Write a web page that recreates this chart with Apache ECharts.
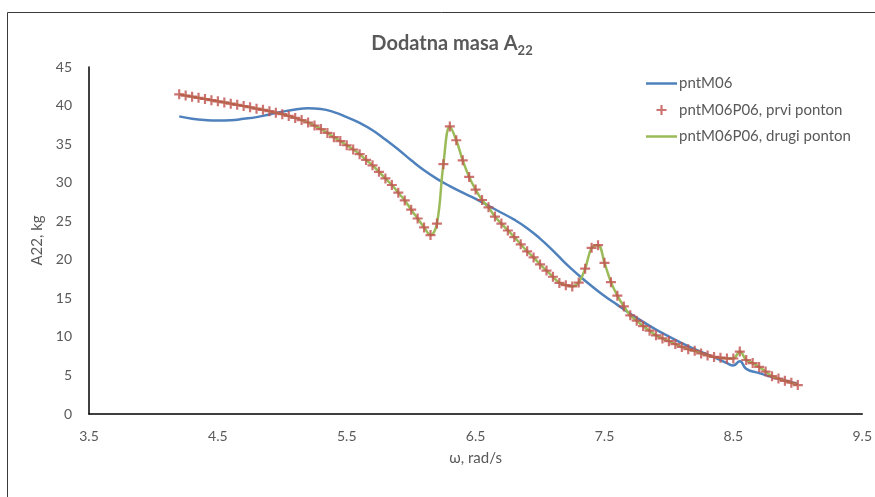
<!DOCTYPE html>
<html><head><meta charset="utf-8">
<script src="https://cdn.jsdelivr.net/npm/echarts@6/dist/echarts.min.js"></script>
<style>html,body{margin:0;padding:0;background:#fff}#c{width:875px;height:497px}</style>
</head><body><div id="c"></div>
<script>
const seriesNames = ['pntM06', 'pntM06P06, prvi ponton', 'pntM06P06, drugi ponton'];
const xTicks = [3.5, 4.5, 5.5, 6.5, 7.5, 8.5, 9.5];
const yTicks = [0, 5, 10, 15, 20, 25, 30, 35, 40, 45];

const blueX = [4.2,4.3,4.4,4.5,4.6,4.7,4.8,4.9,5.0,5.1,5.2,5.3,5.4,5.5,5.6,5.7,5.8,5.9,6.0,6.1,6.2,6.3,6.4,6.5,6.6,6.7,6.8,6.9,7.0,7.1,7.2,7.3,7.4,7.5,7.6,7.7,7.8,7.9,8.0,8.1,8.2,8.3,8.4,8.45,8.5,8.55,8.6,8.7,8.8,8.9,9.0];
const blueY = [38.6,38.3,38.12,38.05,38.1,38.28,38.5,38.85,39.2,39.5,39.65,39.55,39.15,38.5,37.75,36.8,35.6,34.3,32.9,31.6,30.5,29.55,28.7,27.9,27.0,26.1,25.2,24.1,22.75,21.2,19.5,18.0,16.6,15.3,14.15,13.0,11.95,10.95,10.05,9.2,8.4,7.7,7.0,6.6,6.3,6.85,5.85,5.3,4.8,4.35,3.9];

const pontonX = [4.2,4.25,4.3,4.35,4.4,4.45,4.5,4.55,4.6,4.65,4.7,4.75,4.8,4.85,4.9,4.95,5.0,5.05,5.1,5.15,5.2,5.25,5.3,5.35,5.4,5.45,5.5,5.55,5.6,5.65,5.7,5.75,5.8,5.85,5.9,5.95,6.0,6.05,6.1,6.15,6.2,6.25,6.3,6.35,6.4,6.45,6.5,6.55,6.6,6.65,6.7,6.75,6.8,6.85,6.9,6.95,7.0,7.05,7.1,7.15,7.2,7.25,7.3,7.35,7.4,7.45,7.5,7.55,7.6,7.65,7.7,7.75,7.8,7.85,7.9,7.95,8.0,8.05,8.1,8.15,8.2,8.25,8.3,8.35,8.4,8.45,8.5,8.55,8.6,8.65,8.7,8.75,8.8,8.85,8.9,8.95,9.0];
const prviY = [41.45,41.3,41.15,41.0,40.85,40.7,40.55,40.4,40.25,40.1,39.94,39.78,39.6,39.45,39.27,39.08,38.88,38.65,38.4,38.12,37.8,37.4,36.95,36.45,35.9,35.4,34.85,34.3,33.7,32.95,32.25,31.4,30.55,29.7,28.7,27.7,26.5,25.35,24.2,23.2,24.7,32.4,37.3,35.5,32.9,30.75,29.1,27.75,26.8,25.6,24.7,23.8,22.95,22.0,21.1,20.3,19.4,18.6,17.8,17.0,16.7,16.55,17.05,18.85,21.55,21.9,19.6,17.1,15.35,13.95,12.8,12.1,11.4,10.8,10.2,9.8,9.45,9.07,8.7,8.4,8.2,7.86,7.6,7.4,7.3,7.2,7.2,8.1,7.0,6.6,6.1,5.5,4.9,4.6,4.3,4.05,3.75];
const drugiY = [41.45,41.3,41.15,41.0,40.85,40.7,40.55,40.4,40.25,40.1,39.94,39.78,39.6,39.45,39.27,39.08,38.88,38.65,38.4,38.12,37.8,37.4,36.95,36.45,35.9,35.4,34.85,34.3,33.7,32.95,32.25,31.4,30.55,29.7,28.7,27.7,26.5,25.35,24.2,23.2,24.7,32.4,37.3,35.5,32.9,30.75,29.1,27.75,26.8,25.6,24.7,23.8,22.95,22.0,21.1,20.3,19.4,18.6,17.8,17.0,16.7,16.55,17.05,18.85,21.55,21.9,19.6,17.1,15.35,13.95,12.8,12.1,11.4,10.8,10.2,9.8,9.45,9.07,8.7,8.4,8.2,7.86,7.6,7.4,7.3,7.2,7.2,8.1,7.0,6.6,6.1,5.5,4.9,4.6,4.3,4.05,3.75];

const zip = (xs, ys) => xs.map((x, i) => [x, ys[i]]);
const FONT = 'Lato';
const GRAY = '#595959';
const plusPath = 'path://M3.9,0 H6.1 V3.9 H10 V6.1 H6.1 V10 H3.9 V6.1 H0 V3.9 H3.9 Z';
// thin horizontal bar inside a 31x10 box (the M points set the box extent)
const lineIcon = 'path://M0,0 L0.01,0 M0,3.7 H31 V6.3 H0 Z M30.99,10 L31,10';

const chart = echarts.init(document.getElementById('c'), null, {renderer: 'canvas'});
chart.setOption({
  backgroundColor: '#fff',
  animation: false,
  textStyle: {fontFamily: FONT},
  title: {
    text: '{a|Dodatna masa A}{b|22}',
    left: 447, top: 26, textAlign: 'center',
    textStyle: {
      rich: {
        a: {fontFamily: FONT, fontSize: 20, fontWeight: 'bold', color: GRAY, lineHeight: 26},
        b: {fontFamily: FONT, fontSize: 13, fontWeight: 'bold', color: GRAY, lineHeight: 15, verticalAlign: 'bottom'}
      }
    }
  },
  legend: {
    orient: 'vertical', left: 641, top: 71, itemGap: 11.5,
    itemWidth: 31, itemHeight: 10,
    textStyle: {color: GRAY, fontSize: 15, fontFamily: FONT, padding: [0, 0, 0, -3]},
    data: [
      {name: seriesNames[0], icon: lineIcon},
      {name: seriesNames[1]},
      {name: seriesNames[2], icon: lineIcon}
    ]
  },
  grid: {left: 89, right: 12, top: 67, bottom: 83, containLabel: false},
  xAxis: {
    type: 'value', min: 3.5, max: 9.5,
    name: 'ω, rad/s', nameLocation: 'middle', nameGap: 37,
    nameTextStyle: {color: GRAY, fontSize: 15, fontFamily: FONT},
    axisLine: {show: true, onZero: false, lineStyle: {color: '#000', width: 1.5}},
    axisTick: {show: false},
    splitLine: {show: false},
    axisLabel: {color: GRAY, fontSize: 14, margin: 15, fontFamily: FONT, customValues: xTicks,
      formatter: v => v.toFixed(1)}
  },
  yAxis: {
    type: 'value', min: 0, max: 45, interval: 5,
    name: 'A22, kg', nameLocation: 'middle', nameGap: 44, nameRotate: 90,
    nameTextStyle: {color: GRAY, fontSize: 15, fontFamily: FONT},
    axisLine: {show: true, lineStyle: {color: '#000', width: 1.5}},
    axisTick: {show: false},
    splitLine: {show: false},
    axisLabel: {color: GRAY, fontSize: 14, margin: 17, fontFamily: FONT, customValues: yTicks}
  },
  graphic: [{
    type: 'rect', silent: true, z: -10,
    shape: {x: 7.5, y: 12.5, width: 1200, height: 1200},
    style: {fill: 'none', stroke: '#3a3a3a', lineWidth: 1}
  }],
  series: [
    {name: seriesNames[0], type: 'line', data: zip(blueX, blueY), smooth: 0.5, symbol: 'none',
      lineStyle: {color: '#4F81BD', width: 2.5}, itemStyle: {color: '#4F81BD'}, z: 2},
    {name: seriesNames[1], type: 'scatter', data: zip(pontonX, prviY), symbol: plusPath,
      symbolSize: 10, symbolKeepAspect: true, itemStyle: {color: '#C0504D'}, z: 5},
    {name: seriesNames[2], type: 'line', data: zip(pontonX, drugiY), smooth: 0.4, symbol: 'none',
      lineStyle: {color: '#9BBB59', width: 2.5}, itemStyle: {color: '#9BBB59'}, z: 3}
  ]
});
</script></body></html>
